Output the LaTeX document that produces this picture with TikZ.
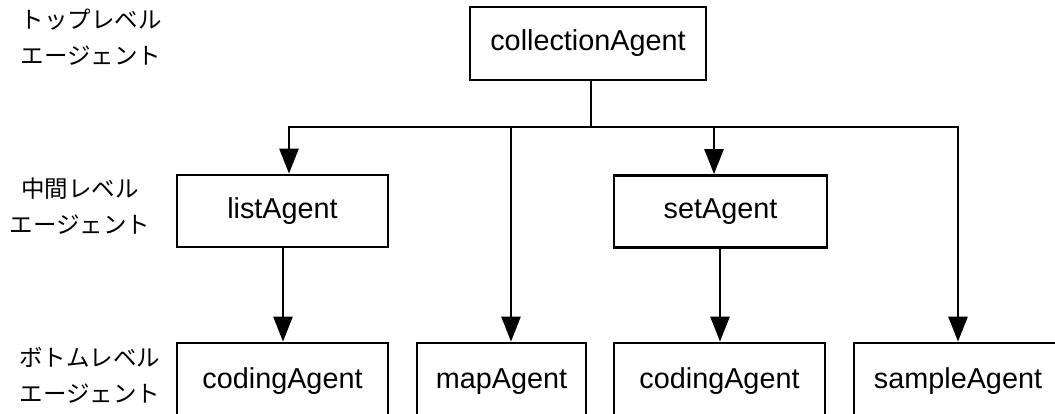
\documentclass[tikz,border=0pt]{standalone}
\usepackage{fontspec}
\setmainfont{Liberation Sans}
\newfontfamily\cjk{Noto Sans CJK JP}
\usetikzlibrary{arrows.meta}
\tikzset{
  agent/.style={draw=black, line width=2.8pt, fill=white, inner sep=0pt,
    minimum height=72pt, text height=21pt, text depth=6pt,
    font=\fontsize{28.8}{34}\selectfont},
  bottomagent/.style={agent, minimum height=76pt},
  level/.style={align=center, inner sep=0pt, font=\cjk\fontsize{23.5}{36}\selectfont},
  wire/.style={line width=2.8pt},
  arr/.style={line width=2.8pt, -{Triangle[length=25pt,width=19pt]}}
}
\begin{document}
\begin{tikzpicture}[x=1pt,y=-1pt]
\useasboundingbox (0,0) rectangle (1055,414);
\clip (0,0) rectangle (1055,414);
% level labels
\node[level] (ltop) at (91,37) {トップレベル\\エージェント};
\node[level] (lmid) at (80,206) {中間レベル\\エージェント};
\node[level] (lbot) at (90,375) {ボトムレベル\\エージェント};
% nodes
\node[agent, minimum width=236pt, minimum height=73pt] (coll) at (588,43.5) {collectionAgent};
\node[agent, minimum width=211pt] (list) at (282.5,211) {listAgent};
\node[agent, minimum width=213pt] (set) at (720.5,211.5) {setAgent};
\node[bottomagent, minimum width=211pt] (cod1) at (282.5,381) {codingAgent};
\node[bottomagent, minimum width=169pt] (map) at (501.5,381) {mapAgent};
\node[bottomagent, minimum width=211pt] (cod2) at (719.5,381) {codingAgent};
\node[bottomagent, minimum width=208pt] (samp) at (958,381) {sampleAgent};
% bus
\coordinate (bus) at (591,127);
\coordinate (busL) at (289,127);
\coordinate (busM) at (511,127);
\coordinate (busS) at (714,127);
\coordinate (busR) at (958,127);
\draw[wire] (bus |- coll.south) -- (bus);
\draw[wire, line cap=rect] (busL) -- (busR);
\draw[arr] (busL) -- (busL |- list.north);
\draw[arr] (busM) -- (busM |- map.north);
\draw[arr] (busS) -- (busS |- set.north);
\draw[arr] (busR) -- (busR |- samp.north);
\draw[arr] (283,0 |- list.south) -- (283,0 |- cod1.north);
\draw[arr] (720,0 |- set.south) -- (720,0 |- cod2.north);
\end{tikzpicture}
\end{document}
